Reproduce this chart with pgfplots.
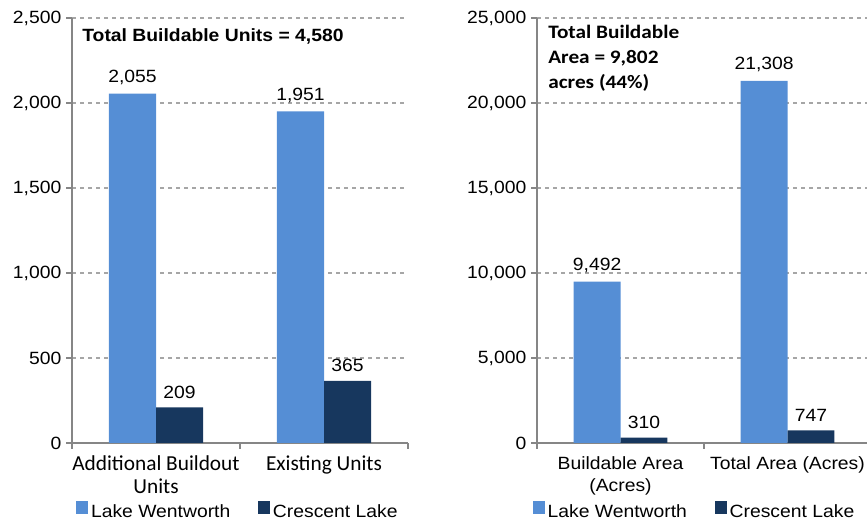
\documentclass[border=0pt]{standalone}
\usepackage{pgfplots}
\pgfplotsset{compat=1.18}
\usepackage{fontspec}
\setmainfont{Liberation Sans}[FakeStretch=1.09]
\newfontfamily\calibri{Carlito}
\newfontfamily\calibrib{Carlito}[FakeStretch=1.12]
\newcommand\ar{\fontsize{13.3}{16}\selectfont}
\definecolor{lw}{HTML}{558ED5}
\definecolor{cl}{HTML}{17375E}
\definecolor{axc}{HTML}{868686}
\definecolor{grc}{HTML}{A6A6A6}
\pgfplotsset{
  /pgf/number format/.cd, 1000 sep={,}, assume math mode=true,
  /pgfplots/.cd,
  mybase/.style={
    scale only axis, height=318.75pt,
    ymin=0, xmin=-0.5, xmax=1.5,
    axis x line*=bottom, axis y line*=left,
    axis line style={axc, line width=0.8pt},
    xtick={-0.5,0.5,1.5}, xticklabels={},
    tick align=outside, major tick length=4.5pt,
    tick style={axc, line width=0.8pt},
    ymajorgrids, xmajorgrids=false,
    major grid style={grc, dash pattern=on 3pt off 3pt, line width=0.8pt},
    yticklabel style={font=\ar, text=black},
    scaled y ticks=false,
    extra x ticks={0,1},
    extra x tick style={major tick length=0pt, grid=none},
    ybar=0pt, bar width=0.28,
    legend columns=2,
    legend style={draw=none, fill=none, font=\ar, anchor=north,
      /tikz/every even column/.append style={column sep=19pt}},
    legend image code/.code={\fill[##1] (0pt,-1pt) rectangle (9pt,8.5pt);},
    nodes near coords,
    every node near coord/.append style={font=\ar, text=black, inner sep=6.5pt},
  },
}
\begin{document}
\begin{tikzpicture}
\begin{axis}[mybase, at={(54pt,57.75pt)}, anchor=south west, width=252pt,
  ymax=2500, ytick={0,500,...,2500},
  extra x tick labels={{Additional Buildout\\Units},{Existing Units}},
  extra x tick style={xticklabel style={font=\calibri\fontsize{16}{17.5}\selectfont, align=center, text=black, yshift=-6pt}},
  legend style={at={(0.495,-0.13)}},
]
\addplot[fill=lw, draw=none, bar shift=-0.14] coordinates {(0,2055) (1,1951)};
\addplot[fill=cl, draw=none, bar shift=0.14] coordinates {(0,209) (1,365)};
\legend{Lake Wentworth, Crescent Lake}
\node[anchor=base west, inner sep=0pt, font=\ar\bfseries] at (rel axis cs:0.03,0.945) {Total Buildable Units = 4,580};
\end{axis}
\begin{axis}[mybase, at={(402.75pt,57.75pt)}, anchor=south west, width=250.5pt,
  ymax=25000, ytick={0,5000,...,25000},
  extra x tick labels={{Buildable Area\\(Acres)},{Total Area (Acres)}},
  extra x tick style={xticklabel style={font=\ar, align=center, text=black, yshift=-7pt}},
  legend style={at={(0.473,-0.13)}},
]
\addplot[fill=lw, draw=none, bar shift=-0.14] coordinates {(0,9492) (1,21308)};
\addplot[fill=cl, draw=none, bar shift=0.14] coordinates {(0,310) (1,747)};
\legend{Lake Wentworth, Crescent Lake}
\node[anchor=north west, inner sep=0pt, align=left, font=\calibrib\bfseries\fontsize{14.25}{18.75}\selectfont] at (rel axis cs:0.033,0.983) {Total Buildable\\Area = 9,802\\acres (44\%)};
\end{axis}
\pgfresetboundingbox
\useasboundingbox (0,0) rectangle (650.25pt,390pt);
\end{tikzpicture}
\end{document}
